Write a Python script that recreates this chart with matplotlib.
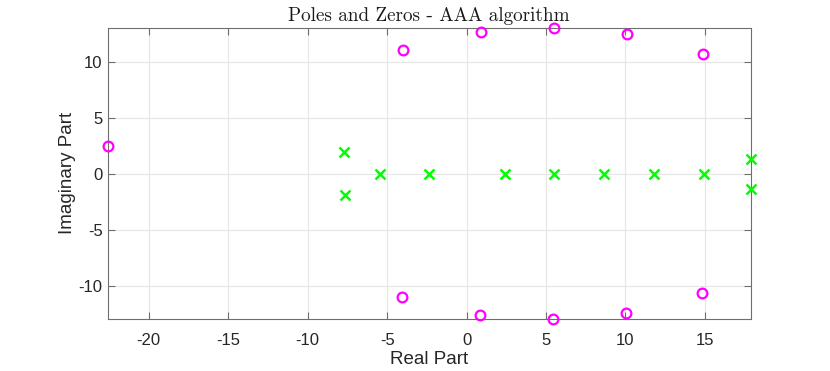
import matplotlib
matplotlib.use("Agg")
import matplotlib.pyplot as plt

# Zeros (circles)
zeros_re = [-22.58, -4.02, 0.91, 5.52, 10.08, 14.91, -4.07, 0.84, 5.44, 10.02, 14.84]
zeros_im = [2.50, 11.07, 12.65, 13.04, 12.50, 10.69, -10.98, -12.59, -12.98, -12.41, -10.65]

# Poles (crosses)
poles_re = [-7.70, -7.66, -5.45, -2.39, 2.44, 5.52, 8.65, 11.80, 14.93, 17.89, 17.89]
poles_im = [1.96, -1.88, 0.0, 0.0, 0.0, 0.0, 0.0, 0.0, 0.0, 1.34, -1.34]

xticks = [-20, -15, -10, -5, 0, 5, 10, 15]
yticks = [-10, -5, 0, 5, 10]

plt.rcParams['font.family'] = ['Liberation Sans', 'DejaVu Sans']
plt.rcParams['axes.unicode_minus'] = False

W, H = 830, 371
fig = plt.figure(figsize=(W / 100, H / 100), dpi=100)
left, right, top, bottom = 107.5, 751, 27.7, 319
ax = fig.add_axes([left / W, 1 - bottom / H, (right - left) / W, (bottom - top) / H])

ax.plot(zeros_re, zeros_im, linestyle='none', marker='o', markersize=7,
        markerfacecolor='none', markeredgecolor=(1, 0, 1), markeredgewidth=1.6,
        clip_on=False, zorder=3)
ax.plot(poles_re, poles_im, linestyle='none', marker='x', markersize=7,
        color=(0, 1, 0), markeredgewidth=1.8, clip_on=False, zorder=3)

ax.set_xlim(-22.6, 17.9)
ax.set_ylim(-12.95, 13.06)
ax.set_xticks(xticks)
ax.set_yticks(yticks)
ax.grid(True, color='#e6e6e6', linewidth=0.8)
ax.set_axisbelow(True)

axcol = '#262626'
for s in ax.spines.values():
    s.set_color('#6e6e6e')
    s.set_linewidth(0.8)
ax.tick_params(direction='in', length=5, width=0.8, color='#6e6e6e',
               labelcolor=axcol, labelsize=12, top=True, right=True)
ax.tick_params(axis='x', pad=10)
ax.set_xlabel('Real Part', fontsize=13.5, color=axcol, labelpad=2)
ax.set_ylabel('Imaginary Part', fontsize=13.5, color=axcol, labelpad=2)
ax.set_title('Poles and Zeros - AAA algorithm', fontsize=13.8, family=['cmr10', 'DejaVu Serif'],
             color='#1a1a1a', pad=5)

fig.savefig('out.png', dpi=100)
